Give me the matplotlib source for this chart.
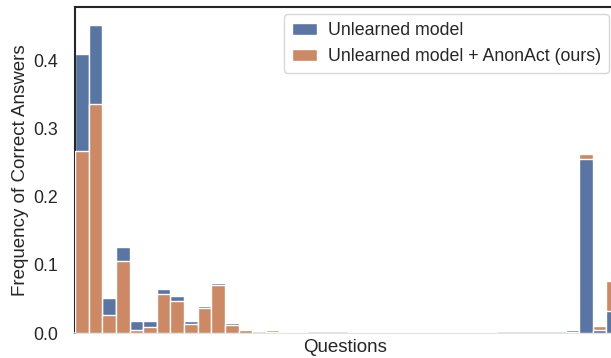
import matplotlib
matplotlib.use("Agg")
import matplotlib.pyplot as plt
import numpy as np

# Per-question frequency of correct answers
questions = np.arange(40)
unlearned = [0.409, 0.453, 0.052, 0.127, 0.017, 0.017, 0.065, 0.055, 0.018, 0.040,
             0.073, 0.014, 0.006, 0.000, 0.002, 0.001, 0.001, 0.000, 0.000, 0.000,
             0.002, 0.002, 0.002, 0.002, 0.002, 0.002, 0.002, 0.002, 0.002, 0.002,
             0.003, 0.000, 0.000, 0.000, 0.000, 0.000, 0.005, 0.256, 0.004, 0.032]
anonact = [0.267, 0.336, 0.026, 0.105, 0.005, 0.009, 0.058, 0.047, 0.013, 0.037,
           0.071, 0.012, 0.004, 0.000, 0.004, 0.001, 0.001, 0.000, 0.000, 0.000,
           0.001, 0.001, 0.001, 0.001, 0.001, 0.001, 0.001, 0.001, 0.001, 0.001,
           0.001, 0.000, 0.000, 0.000, 0.000, 0.000, 0.001, 0.2625, 0.011, 0.077]

labels = ["Unlearned model", "Unlearned model + AnonAct (ours)"]
colors = ["#5975a4", "#cc8963"]

plt.rcParams["font.family"] = ["Liberation Sans", "DejaVu Sans"]

fig = plt.figure(figsize=(6.11, 3.58), dpi=100)
ax = fig.add_axes([75 / 611, 1 - 333 / 358, (616 - 75) / 611, (333 - 7) / 358])

# Overlaid bars: the shorter bar of each question is drawn in front;
# questions with no correct answers get no bar
for i, q in enumerate(questions):
    pairs = [(unlearned[i], 0), (anonact[i], 1)]
    pairs.sort(key=lambda p: -p[0])
    for z, (h, k) in enumerate(pairs):
        if h <= 0:
            continue
        ax.bar(q, h, width=1.0, color=colors[k], edgecolor="white",
               linewidth=1.0, zorder=2 + z,
               label=labels[k] if i == 0 else None)

ax.set_xlim(-0.5, 39.2)
ax.set_ylim(0, 0.4787)
ax.set_xticks([])
ax.set_yticks([0.0, 0.1, 0.2, 0.3, 0.4])
ax.tick_params(axis="y", length=0, pad=12, labelsize=12.8, colors="#262626")
ax.set_ylabel("Frequency of Correct Answers", fontsize=13.5, color="#262626", labelpad=3)
ax.set_xlabel("Questions", fontsize=13.5, color="#262626", labelpad=4)

for side in ["left", "top", "right"]:
    ax.spines[side].set_color("#262626")
    ax.spines[side].set_linewidth(1.5)
ax.spines["bottom"].set_color("#dddddd")
ax.spines["bottom"].set_linewidth(1.2)

handles, lbls = ax.get_legend_handles_labels()
order = [lbls.index(l) for l in labels]
ax.legend([handles[j] for j in order], labels, loc="upper right",
          fontsize=12.8, frameon=True, edgecolor="#cccccc", fancybox=True,
          borderaxespad=0.4, borderpad=0.45, handlelength=1.4,
          handletextpad=0.6, labelcolor="#262626")

fig.savefig("out.png", dpi=100)
